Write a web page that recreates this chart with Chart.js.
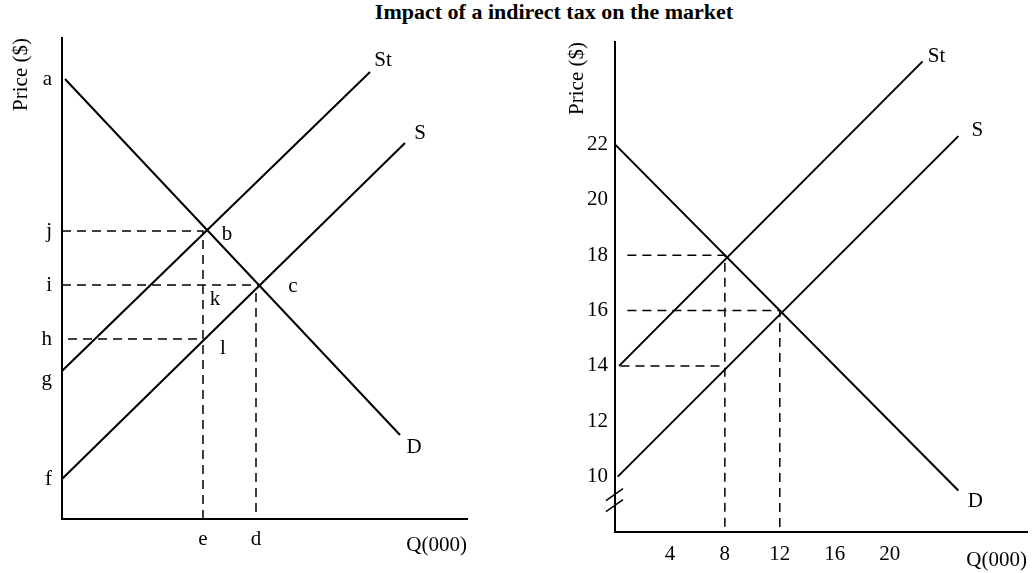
<!DOCTYPE html>
<html>
<head>
<meta charset="utf-8">
<script src="https://cdn.jsdelivr.net/npm/chart.js@4.4.0/dist/chart.umd.min.js"></script>
<style>
  body { margin: 0; background: #fff; width: 1033px; height: 573px; position: relative; overflow: hidden; }
  #title { position: absolute; top: 0; left: 0; width: 1108px; text-align: center;
           font: bold 22px "Liberation Serif", "Times New Roman", serif; line-height: 24px; color: #000; }
  canvas { position: absolute; top: 0; }
</style>
</head>
<body>
<div id="title">Impact of a indirect tax on the market</div>
<canvas id="left" width="516" height="573" style="left:0"></canvas>
<canvas id="right" width="517" height="573" style="left:516px"></canvas>
<script>
// ---- left diagram (symbolic, letters only) ----
var leftDemand = [{x: 0.3, y: 44.0}, {x: 33.8, y: 8.4}];
var leftSupplyTax = [{x: 0, y: 14.8}, {x: 30.8, y: 44.7}];
var leftSupply = [{x: 0, y: 4.0}, {x: 34.3, y: 37.6}];
var leftPriceTicks = [4.0, 14.0, 18.0, 23.4, 28.8, 44.0];
var leftPriceLabels = ['f', 'g', 'h', 'i', 'j', 'a'];
var leftQtyTicks = [14.1, 19.4];
var leftQtyLabels = ['e', 'd'];
var leftGuideJ = [{x: 0, y: 28.8}, {x: 14.1, y: 28.8}, {x: 14.1, y: 0}];
var leftGuideI = [{x: 0, y: 23.4}, {x: 19.6, y: 23.4}];
var leftGuideD = [{x: 19.4, y: 22.6}, {x: 19.4, y: 0}];
var leftGuideH = [{x: 0.6, y: 18.0}, {x: 14.1, y: 18.0}];

// ---- right diagram (numbers) ----
var qtyTicks = [4, 8, 12, 16, 20];
var priceTicks = [10, 12, 14, 16, 18, 20, 22];
var demand = [{x: 0, y: 22}, {x: 25.0, y: 9.5}];
var supplyTax = [{x: 0.3, y: 14}, {x: 22.4, y: 25.0}];
var supply = [{x: 0.2, y: 10}, {x: 25, y: 22.3}];
var guide18 = [{x: 0.9, y: 18}, {x: 8, y: 18}, {x: 8, y: 8}];
var guide16 = [{x: 0.9, y: 16}, {x: 12, y: 16}, {x: 12, y: 8}];
var guide14 = [{x: 0.4, y: 14}, {x: 8, y: 14}];
var axisBreak = [9.35, 8.95];

var ink = '#000';
var serif = '"Liberation Serif", "Times New Roman", serif';
Chart.defaults.font.family = serif;
Chart.defaults.color = ink;

// text notes next to the curves and points
var notesPlugin = {
  id: 'notes',
  afterDatasetsDraw: function(chart, args, opts) {
    var ctx = chart.ctx, xs = chart.scales.x, ys = chart.scales.y;
    ctx.save();
    ctx.font = '21px ' + serif;
    ctx.fillStyle = ink;
    ctx.textAlign = 'center';
    ctx.textBaseline = 'middle';
    (opts.items || []).forEach(function(n) {
      ctx.fillText(n.text, xs.getPixelForValue(n.at.x) + n.dx, ys.getPixelForValue(n.at.y) + n.dy);
    });
    if (opts.breaks) {
      var x0 = xs.getPixelForValue(xs.min);
      ctx.strokeStyle = ink;
      ctx.lineWidth = 1.5;
      opts.breaks.forEach(function(v) {
        var y = ys.getPixelForValue(v);
        ctx.beginPath();
        ctx.moveTo(x0 - 9, y + 6);
        ctx.lineTo(x0 + 8, y - 6);
        ctx.stroke();
      });
    }
    ctx.restore();
  }
};

function curve(data) {
  return { data: data, showLine: true, borderColor: ink, borderWidth: 2, pointRadius: 0, fill: false };
}
function guide(data) {
  return { data: data, showLine: true, borderColor: ink, borderWidth: 1.5, borderDash: [9, 6], pointRadius: 0, fill: false };
}

function axis(min, max, tickValues, tickText, pad, fit, title, titlePad, isX) {
  return {
    type: 'linear', min: min, max: max,
    grid: { display: false, drawTicks: false },
    border: { display: true, color: ink, width: 2 },
    afterBuildTicks: function(s) { s.ticks = tickValues.map(function(v) { return {value: v}; }); },
    ticks: {
      autoSkip: false, maxRotation: 0, padding: pad, color: ink, font: { size: 21 },
      callback: function(v) { return tickText(v); }
    },
    title: { display: true, text: title, align: 'end', color: ink, font: { size: 21 }, padding: titlePad },
    afterFit: function(s) { if (isX) { s.height = fit; } else { s.width = fit; } }
  };
}

new Chart(document.getElementById('left'), {
  type: 'scatter',
  data: {
    datasets: [
      curve(leftDemand), curve(leftSupplyTax), curve(leftSupply),
      guide(leftGuideJ), guide(leftGuideI), guide(leftGuideD), guide(leftGuideH)
    ]
  },
  options: {
    responsive: false, animation: false,
    layout: { padding: { top: 38, right: 49, left: 0, bottom: 0 } },
    plugins: {
      legend: { display: false }, tooltip: { enabled: false },
      notes: {
        items: [
          {text: 'St', at: leftSupplyTax[1], dx: 13, dy: -12},
          {text: 'S', at: leftSupply[1], dx: 15, dy: -10},
          {text: 'D', at: leftDemand[1], dx: 14, dy: 12},
          {text: 'b', at: {x: 14.1, y: 28.8}, dx: 24, dy: 3},
          {text: 'c', at: {x: 19.6, y: 23.4}, dx: 35, dy: 1},
          {text: 'k', at: {x: 14.1, y: 23.4}, dx: 12, dy: 14},
          {text: 'l', at: {x: 14.1, y: 18.0}, dx: 20, dy: 9}
        ]
      }
    },
    scales: {
      x: axis(0, 40.5, leftQtyTicks, function(v) { return leftQtyLabels[leftQtyTicks.indexOf(v)]; },
              8, 54, 'Q(000)', { top: 0, bottom: 15 }, true),
      y: axis(0, 48.1, leftPriceTicks, function(v) { return leftPriceLabels[leftPriceTicks.indexOf(v)]; },
              10, 62, 'Price ($)', { top: 9, bottom: 0 }, false)
    }
  },
  plugins: [notesPlugin]
});

new Chart(document.getElementById('right'), {
  type: 'scatter',
  data: {
    datasets: [
      curve(demand), curve(supplyTax), curve(supply),
      guide(guide18), guide(guide16), guide(guide14)
    ]
  },
  options: {
    responsive: false, animation: false,
    layout: { padding: { top: 42, right: 6, left: 0, bottom: 0 } },
    plugins: {
      legend: { display: false }, tooltip: { enabled: false },
      notes: {
        items: [
          {text: 'St', at: supplyTax[1], dx: 14, dy: -5},
          {text: 'S', at: supply[1], dx: 19, dy: -6},
          {text: 'D', at: demand[1], dx: 17, dy: 11}
        ],
        breaks: axisBreak
      }
    },
    scales: {
      x: axis(0, 30, qtyTicks, function(v) { return String(v); },
              10, 41, 'Q(000)', { top: 0, bottom: 0 }, true),
      y: axis(8, 25.7, priceTicks, function(v) { return String(v); },
              7, 99, 'Price ($)', { top: 49, bottom: 0 }, false)
    }
  },
  plugins: [notesPlugin]
});
</script>
</body>
</html>
